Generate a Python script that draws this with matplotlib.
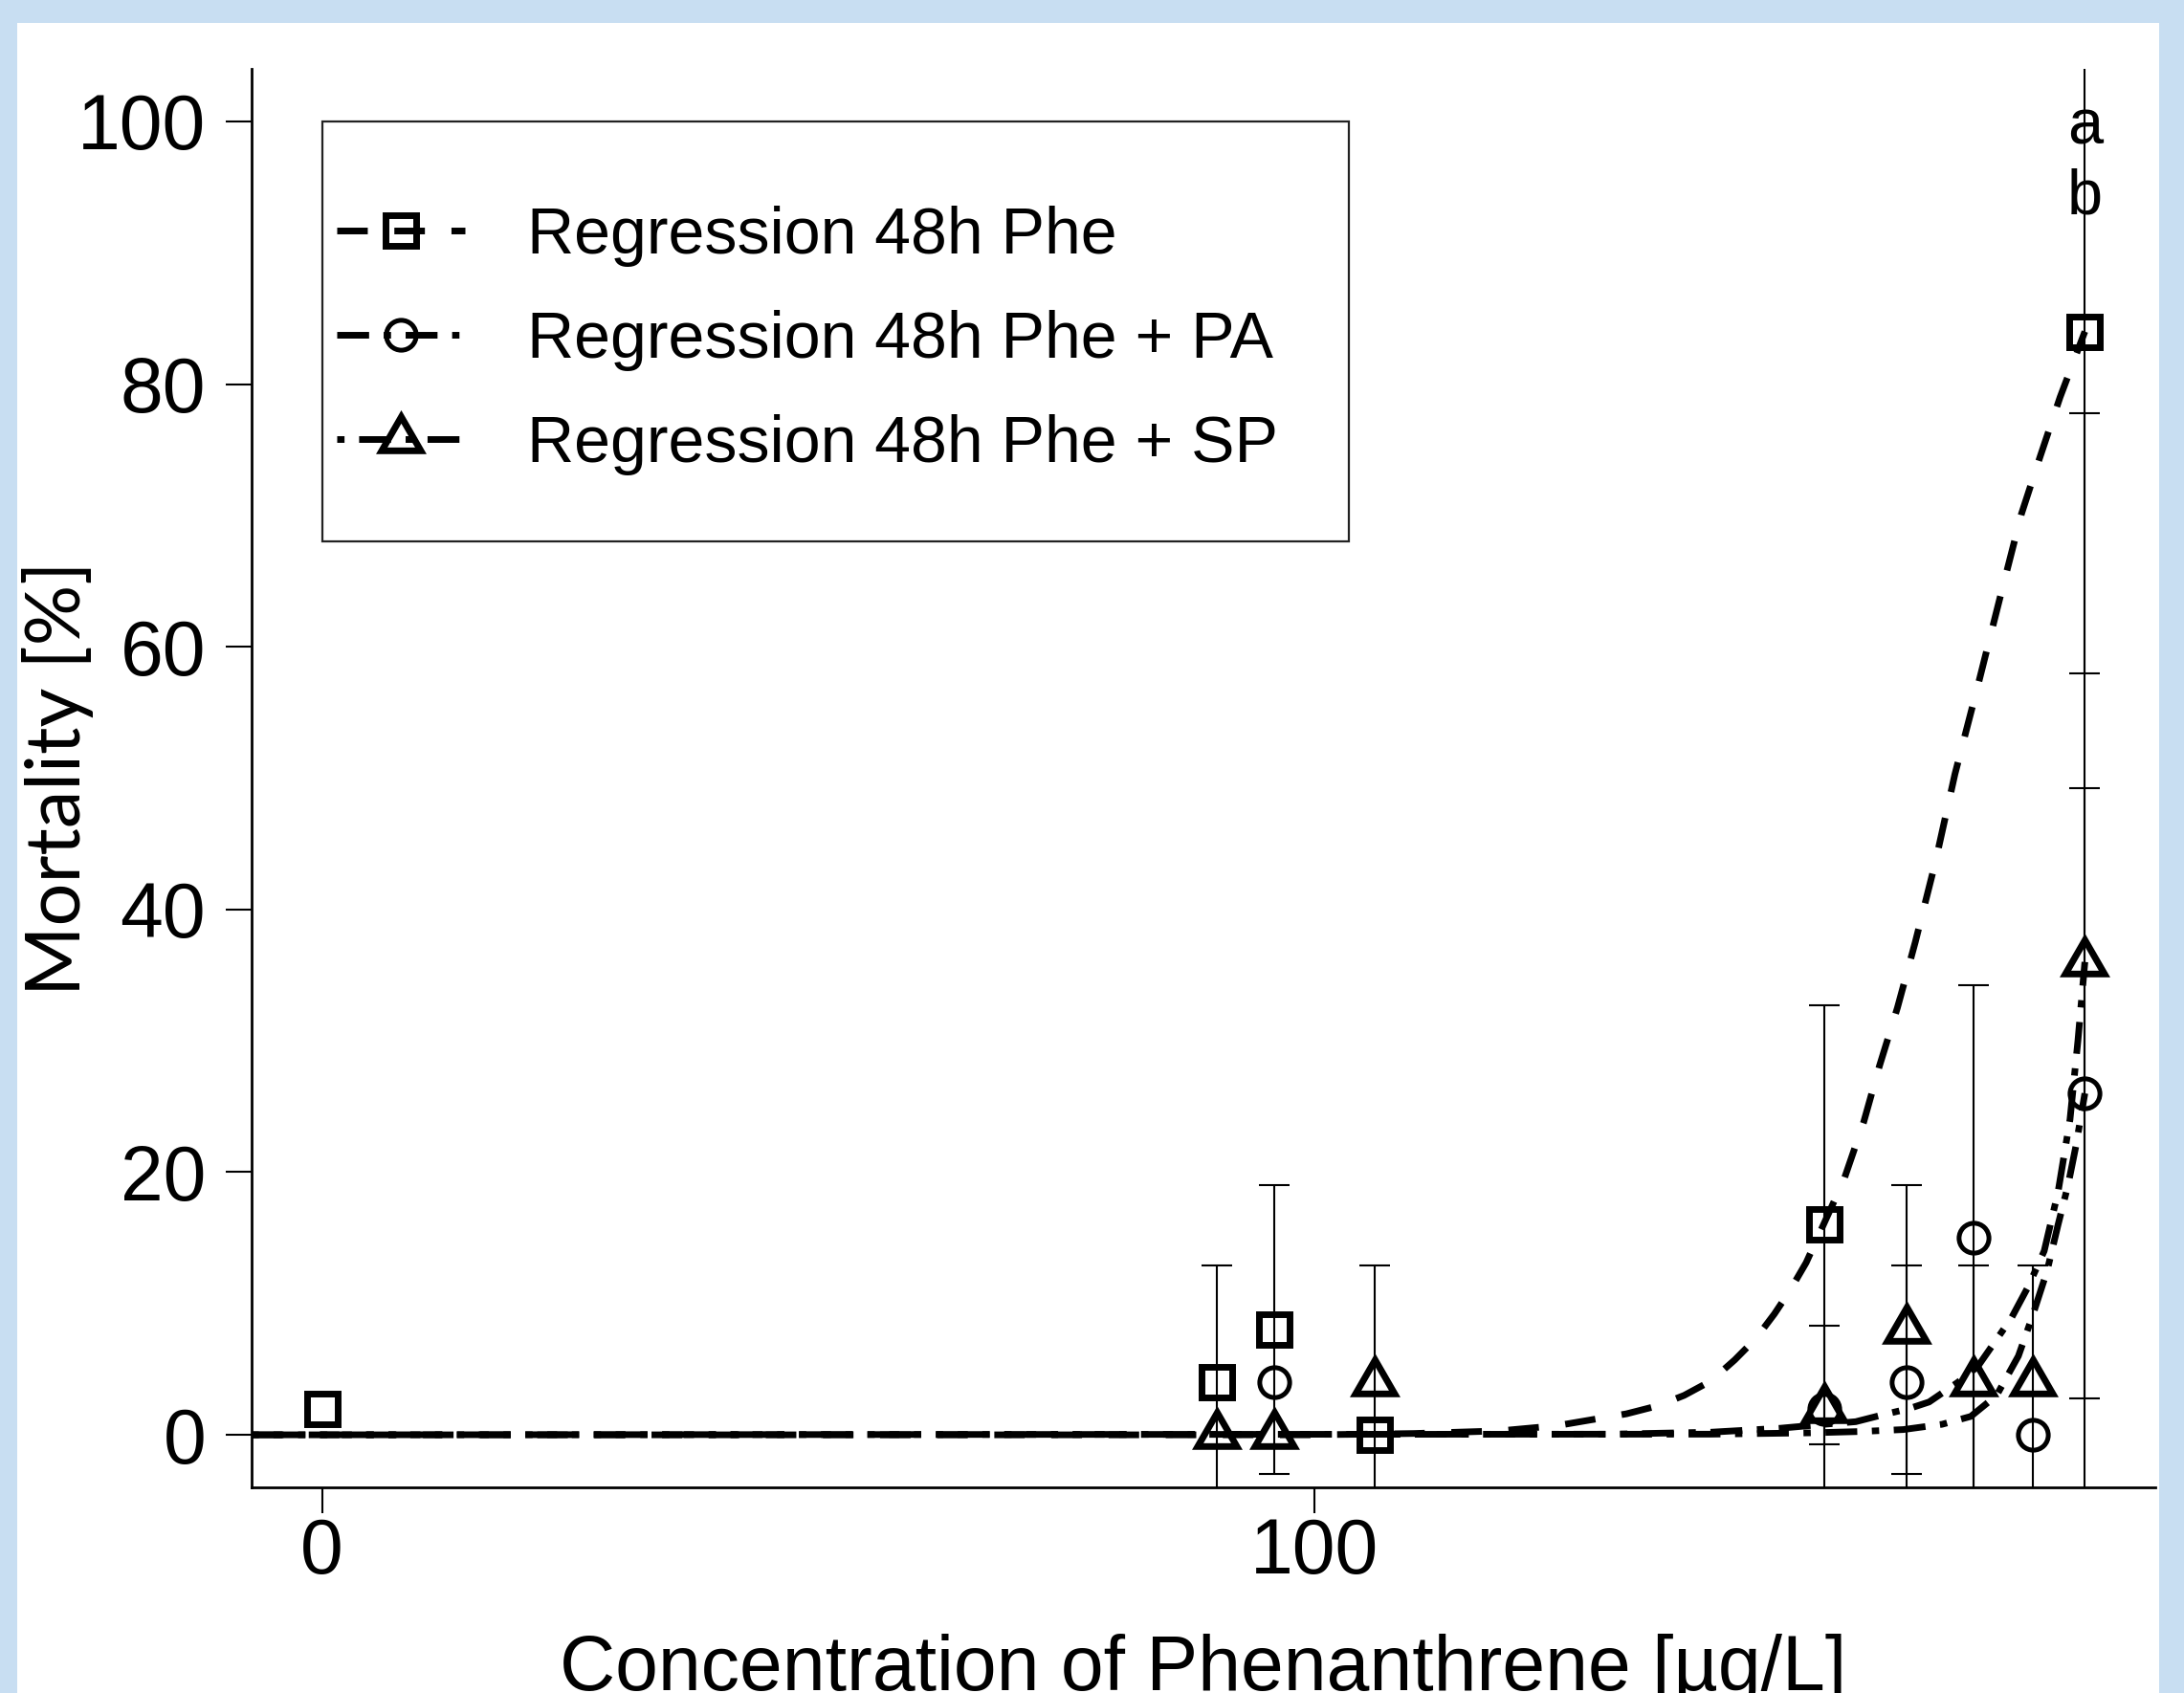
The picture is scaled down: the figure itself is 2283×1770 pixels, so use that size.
import numpy as np
import matplotlib
matplotlib.use("Agg")
import matplotlib.pyplot as plt
from matplotlib.lines import Line2D
from matplotlib.patches import Rectangle

plt.rcParams['font.family'] = ['Liberation Sans', 'DejaVu Sans']

# measured points: concentration [ug/L], mortality [%], sd
conc_phe = [0, 90.2, 96.0, 106.1, 151.4, 177.7]
mort_phe = [2, 4, 8, 0, 16, 84]
sd_phe = [0, 8.9, 11.0, 0, 16.7, 26.0]

conc_pa = [96.0, 151.4, 159.7, 166.5, 172.5, 177.7]
mort_pa = [4, 2, 4, 15, 0, 26]
sd_pa = [0, 0, 8.9, 19.2, 0, 23.2]

conc_sp = [90.2, 96.0, 106.1, 151.4, 159.7, 166.5, 172.5, 177.7]
mort_sp = [0, 0, 4, 2, 8, 4, 4, 36]
sd_sp = [0, 0, 8.9, 6.3, 11.0, 8.9, 8.9, 41.8]

# regression curves
fit_x_phe = [-7.1, 100, 110, 118.7, 124.5, 131.5, 134.6, 137.3, 140.0, 142.4, 144.5, 146.4,
             147.9, 149.6, 153.4, 155.4, 157.0, 158.8, 160.6, 162.6, 164.6, 166.9, 169.1,
             171.3, 173.2, 175.2, 177.4, 177.7]
fit_y_phe = [0, 0, 0.1, 0.3, 0.7, 1.6, 2.2, 3.0, 4.1, 5.7, 7.3, 9.2,
             10.9, 13.1, 19.4, 23.8, 28.1, 32.5, 37.5, 43.5, 50.3, 57.0, 63.6,
             70.1, 74.5, 79.0, 83.4, 84.0]

fit_x_pa = [-7.1, 140, 150, 155, 159.4, 163.3, 166.2, 168.8, 171.0, 172.4, 173.9, 175.0,
            176.0, 176.8, 177.7]
fit_y_pa = [0, 0.05, 0.15, 0.25, 0.4, 0.8, 1.4, 3.0, 6.0, 9.0, 12.5, 16.0,
            19.0, 22.0, 26.0]

fit_x_sp = [-7.1, 130, 140, 147, 151.4, 154.6, 157.2, 160.0, 162.0, 164.9, 166.9, 168.1,
            170.3, 172.0, 173.6, 175.0, 176.2, 177.0, 177.7]
fit_y_sp = [0, 0.05, 0.2, 0.5, 0.8, 1.0, 1.5, 2.0, 2.5, 4.0, 5.2, 6.5,
            8.9, 11.3, 14.0, 18.5, 24.0, 30.0, 36.0]

labels = ["Regression 48h Phe", "Regression 48h Phe + PA", "Regression 48h Phe + SP"]

W, H = 2283, 1770
fig = plt.figure(figsize=(W / 100, H / 100), dpi=100, facecolor='#C8DEF2')
fig.add_artist(Rectangle((18 / W, 0), (2257 - 18) / W, (H - 24) / H,
                         transform=fig.transFigure, facecolor='white',
                         edgecolor='none', zorder=-5))

ax = fig.add_axes([263 / W, (H - 1555) / H, (2253 - 263) / W, (1555 - 72) / H])
ax.set_facecolor('none')

lw_fit = 5
dash_phe = (4.6, 4.0)
dash_pa = (4.8, 2.2, 1.1, 2.2)
dash_sp = (1.1, 2.2, 4.8, 2.2)

ax.plot(fit_x_phe, fit_y_phe, color='black', lw=lw_fit, dashes=dash_phe)
ax.plot(fit_x_pa, fit_y_pa, color='black', lw=lw_fit, dashes=dash_pa)
ax.plot(fit_x_sp, fit_y_sp, color='black', lw=lw_fit, dashes=dash_sp)

mk_phe = dict(marker='s', ms=23, mew=5)
mk_pa = dict(marker='o', ms=22.5, mew=3.6)
mk_sp = dict(marker=(3, 0, 0), ms=34, mew=5)

for cx, my, sd, mk in [(conc_phe, mort_phe, sd_phe, mk_phe),
                       (conc_pa, mort_pa, sd_pa, mk_pa),
                       (conc_sp, mort_sp, sd_sp, mk_sp)]:
    cx = np.array(cx)
    my = np.array(my, dtype=float)
    sd = np.array(sd)
    m = sd > 0
    ax.errorbar(cx[m], my[m], yerr=sd[m], fmt='none', ecolor='black',
                elinewidth=1.5, capsize=11.5, capthick=1.5)
    ax.plot(cx, my, linestyle='none', color='black', mfc='none', **mk)

ax.text(177.7, 98.3, 'a', ha='center', va='baseline', fontsize=48)
ax.text(177.7, 93.0, 'b', ha='center', va='baseline', fontsize=48)

handles = [
    Line2D([], [], color='black', lw=lw_fit, dashes=dash_phe, mfc='none', **mk_phe),
    Line2D([], [], color='black', lw=lw_fit, dashes=dash_pa, mfc='none', **mk_pa),
    Line2D([], [], color='black', lw=lw_fit, dashes=dash_sp, mfc='none', **mk_sp),
]
ax.legend(handles, labels, loc='upper left', bbox_to_anchor=(1.5, 93.6),
          bbox_transform=ax.transData, frameon=False, fontsize=49,
          handlelength=1.97, handletextpad=0.95, labelspacing=0.66,
          borderpad=0, borderaxespad=0)
ax.add_patch(Rectangle((0, 68), 103.5, 32, fill=False, edgecolor='#222222', lw=1.6, zorder=6))

ax.set_xlim(-7.1, 184.8)
ax.set_ylim(-4, 104)
ax.set_xticks([0, 100])
ax.set_yticks([0, 20, 40, 60, 80, 100])
ax.spines['top'].set_visible(False)
ax.spines['right'].set_visible(False)
ax.spines['left'].set_linewidth(2)
ax.spines['bottom'].set_linewidth(2)
ax.tick_params(axis='both', direction='out', length=19.4, width=1.5, labelsize=58)
ax.tick_params(axis='y', pad=15)
ax.tick_params(axis='x', pad=3)

xl = ax.set_xlabel("Concentration of Phenanthrene [µg/L]", fontsize=58)
xl.set_va('baseline')
ax.xaxis.set_label_coords(0.5, -0.143)
yl = ax.set_ylabel("Mortality [%]", fontsize=57, family=['Lato', 'DejaVu Sans'])
yl.set_va('center')
ax.yaxis.set_label_coords(-0.102, 0.5)

fig.savefig("out.png", dpi=100, facecolor=fig.get_facecolor())
